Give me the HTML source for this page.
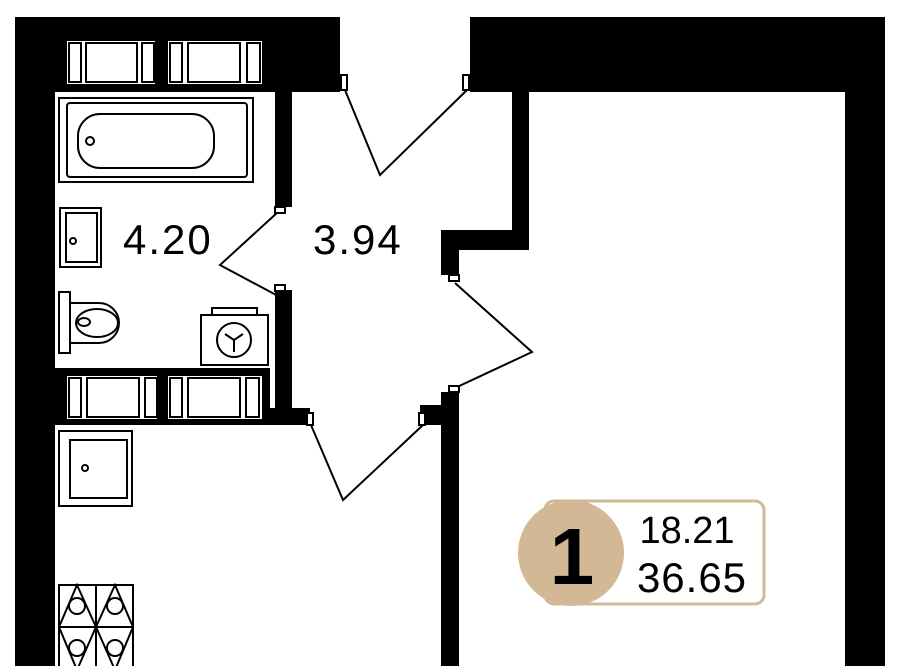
<!DOCTYPE html>
<html><head><meta charset="utf-8"><style>
html,body{margin:0;padding:0;background:#fff;width:900px;height:666px;overflow:hidden}
svg{display:block}
text{font-family:"Liberation Sans",sans-serif}
</style></head><body>
<svg width="900" height="666" viewBox="0 0 900 666" xmlns="http://www.w3.org/2000/svg">
<g fill="#000">
<rect x="15" y="17" width="40" height="649"/>
<rect x="15" y="17" width="325" height="75"/>
<rect x="275" y="85" width="17" height="122"/>
<rect x="275" y="290" width="17" height="130"/>
<rect x="470" y="17" width="415" height="75"/>
<rect x="845" y="17" width="40" height="649"/>
<rect x="512" y="85" width="17" height="165"/>
<rect x="441" y="230" width="88" height="20"/>
<rect x="441" y="230" width="18" height="45"/>
<rect x="441" y="392" width="18" height="274"/>
<rect x="420" y="405" width="39" height="20"/>
<rect x="55" y="368" width="215" height="57"/>
<rect x="55" y="408" width="255" height="17"/>
</g>
<g fill="#fff" stroke="#000" stroke-width="2">
<rect x="66" y="40" width="90" height="45"/>
<rect x="69" y="43" width="12" height="39"/><rect x="86" y="43" width="51" height="39"/><rect x="142" y="43" width="12" height="39"/>
<rect x="167" y="40" width="96" height="45"/>
<rect x="170" y="43" width="12" height="39"/><rect x="188" y="43" width="52" height="39"/><rect x="247" y="43" width="13" height="39"/>
<rect x="66" y="375" width="92" height="45"/>
<rect x="69" y="378" width="12" height="39"/><rect x="87" y="378" width="52" height="39"/><rect x="145" y="378" width="12" height="39"/>
<rect x="167" y="375" width="96" height="45"/>
<rect x="170" y="378" width="12" height="39"/><rect x="188" y="378" width="52" height="39"/><rect x="246" y="378" width="13" height="39"/>
<rect x="59" y="98" width="194" height="84"/>
<rect x="67" y="103" width="180" height="74" rx="3"/>
<rect x="78" y="114" width="136" height="54" rx="22"/>
<circle cx="90" cy="141" r="4"/>
<rect x="60" y="208" width="41" height="59"/>
<rect x="66" y="213" width="31" height="49"/>
<circle cx="73" cy="241" r="3"/>
<path d="M70 303 H99 A20 20 0 0 1 99 343 H70 Z"/>
<rect x="59" y="292" width="11" height="61"/>
<ellipse cx="97" cy="323" rx="21" ry="14"/>
<ellipse cx="84" cy="322" rx="6" ry="4"/>
<rect x="212" y="308" width="45" height="8"/>
<rect x="201" y="315" width="67" height="50"/>
<circle cx="234" cy="340" r="17"/>
<path d="M234 340 V352 M234 340 L225 334 M234 340 L243 334" fill="none"/>
<rect x="59" y="431" width="73" height="75"/>
<rect x="70" y="440" width="57" height="58"/>
<circle cx="85" cy="468" r="3"/>
<rect x="59" y="585" width="74" height="85"/>
<path d="M96 585 V670 M59 627 H133 M59 627 L77 585 L96 627 L115 585 L133 627 L115 670 L96 627 L77 670 Z" fill="none"/>
<circle cx="77" cy="606" r="8"/><circle cx="115" cy="606" r="8"/>
<circle cx="77" cy="648" r="8"/><circle cx="115" cy="648" r="8"/>
<polyline points="345,90 380,175 467,90" fill="none"/>
<polyline points="278,212 220,265 278,296" fill="none"/>
<polyline points="455,283 532,352 455,388" fill="none"/>
<polyline points="311,425 343,500 423,425" fill="none"/>
<rect x="341" y="75" width="6" height="15"/><rect x="463" y="75" width="6" height="15"/>
<rect x="275" y="207" width="10" height="6"/><rect x="275" y="285" width="10" height="6"/>
<rect x="449" y="275" width="10" height="6"/><rect x="449" y="386" width="10" height="6"/>
<rect x="307" y="413" width="6" height="12"/><rect x="419" y="413" width="6" height="12"/>
</g>
<text x="123" y="254" font-size="42" letter-spacing="2">4.20</text>
<text x="313" y="254" font-size="42" letter-spacing="2">3.94</text>
<rect x="545" y="501" width="219" height="103" rx="9" fill="#fff" stroke="#d2b894" stroke-width="3"/>
<circle cx="571" cy="553" r="53" fill="#d2b894"/>
<text x="572" y="584" font-size="80" font-weight="bold" text-anchor="middle">1</text>
<text x="687" y="543" font-size="38" text-anchor="middle">18.21</text>
<text x="692" y="592" font-size="42" text-anchor="middle" letter-spacing="1">36.65</text>
</svg>
</body></html>
